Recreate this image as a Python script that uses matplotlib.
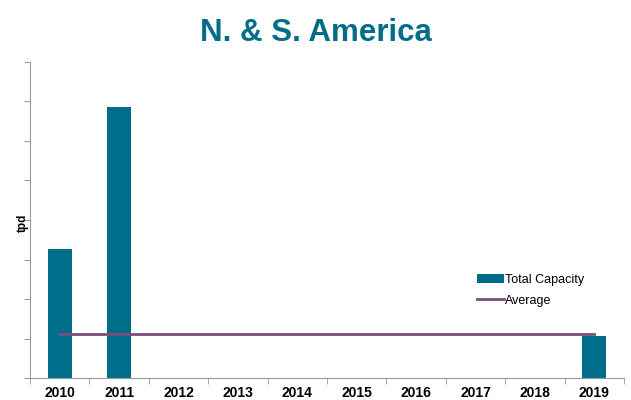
import numpy as np
import matplotlib.pyplot as plt

plt.rcParams['font.family'] = ['Liberation Sans', 'DejaVu Sans']

# data (tpd; axis has no tick labels)
years = ['2010', '2011', '2012', '2013', '2014', '2015', '2016', '2017', '2018', '2019']
total_capacity = [3260, 6870, 0, 0, 0, 0, 0, 0, 0, 1070]
average = 1120

bar_color = '#006E8A'
avg_color = '#7B4E7E'
axis_color = '#999999'

fig = plt.figure(figsize=(6.31, 4.0), dpi=100)
ax = fig.add_axes([0.0475, 0.055, 0.9415, 0.79])

x = np.arange(len(years))
bars = ax.bar(x, total_capacity, width=0.4, color=bar_color, label='Total Capacity', zorder=2)
line, = ax.plot([x[0], x[-1]], [average, average], color=avg_color, lw=2, label='Average', zorder=3)

ax.set_xlim(-0.5, len(years) - 0.5)
ax.set_ylim(0, 8000)
ax.set_yticks(np.arange(0, 8001, 1000))
ax.set_yticklabels([])
ax.tick_params(axis='y', length=4, color=axis_color, direction='out')

ax.set_xticks(x)
ax.set_xticklabels(years, fontsize=10, fontweight='bold')
ax.tick_params(axis='x', which='major', length=0, pad=6)
ax.set_xticks(np.arange(-0.5, len(years), 1), minor=True)
ax.tick_params(axis='x', which='minor', length=4, color=axis_color, direction='out')

for s in ['top', 'right']:
    ax.spines[s].set_visible(False)
for s in ['left', 'bottom']:
    ax.spines[s].set_color(axis_color)

ax.set_ylabel('tpd', fontsize=8.5, fontweight='bold')
ax.yaxis.set_label_coords(-0.002, 0.49)

fig.text(0.5, 0.918, 'N. & S. America', ha='center', va='center',
         fontsize=22.5, fontweight='bold', color=bar_color)

ax.legend([bars, line], ['Total Capacity', 'Average'],
          loc='upper left', bbox_to_anchor=(0.733, 0.365), frameon=False,
          fontsize=9, handlelength=2.2, handletextpad=0.1, labelspacing=0.7)

fig.savefig('out.png', dpi=100)
